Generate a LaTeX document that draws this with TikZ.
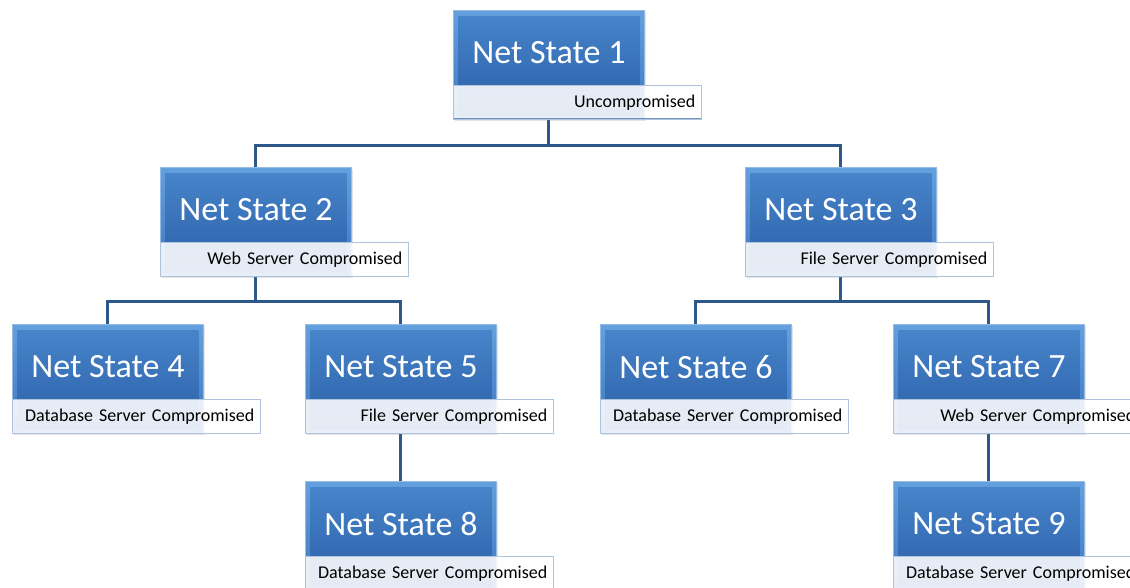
\documentclass[tikz,border=0pt]{standalone}
\usepackage{fontspec}
\setmainfont{Carlito}
\usetikzlibrary{backgrounds,shadows}

\definecolor{bevtop}{RGB}{100,160,222}
\definecolor{bevbot}{RGB}{62,118,192}
\definecolor{boxtop}{RGB}{72,134,204}
\definecolor{boxbot}{RGB}{42,94,166}
\definecolor{boxrim}{RGB}{150,188,230}
\definecolor{linkblue}{RGB}{46,88,140}
\definecolor{tagrim}{RGB}{175,195,220}
\definecolor{tagbase}{RGB}{80,122,180}

\tikzset{
  statebox/.style={rectangle, anchor=north west, inner sep=0pt,
    minimum width=191pt, minimum height=109pt,
    top color=bevtop, bottom color=bevbot, draw=boxrim, line width=0.8pt,
    drop shadow={opacity=0.22, shadow xshift=1.5pt, shadow yshift=-1.5pt},
    path picture={
      \shade[top color=boxtop, bottom color=boxbot]
        ([shift={(5pt,-6pt)}]path picture bounding box.north west) rectangle
        ([shift={(-5pt,4pt)}]path picture bounding box.south east);
    }},
  statetitle/.style={text=white, inner sep=0pt,
    font=\fontsize{34}{36}\selectfont},
  statetag/.style={rectangle, anchor=north west, inner sep=6pt,
    minimum height=34pt, text width=236pt, align=right,
    fill=white, fill opacity=0.88, text opacity=1,
    draw=tagrim, line width=0.6pt,
    font=\fontsize{18}{20}\selectfont,
    path picture={
      \draw[tagbase, line width=1.6pt, opacity=0.8]
        (path picture bounding box.south west) --
        (path picture bounding box.south east);
    }},
  link/.style={draw=linkblue, line width=3pt}
}

\begin{document}
\begin{tikzpicture}[x=1pt, y=-1pt]
  \useasboundingbox (0,0) rectangle (1130,588);

  % state boxes: bevelled blue body, white title, translucent caption strip
  \foreach \id/\px/\py/\tag in {
      1/453/10/Uncompromised,
      2/160/167/Web Server Compromised,
      3/745/167/File Server Compromised,
      4/12/324/Database Server Compromised,
      5/305/324/File Server Compromised,
      6/600/324/Database Server Compromised,
      7/893/324/Web Server Compromised,
      8/305/481/Database Server Compromised,
      9/893/481/Database Server Compromised}{
    \node[statebox] (n\id) at (\px,\py) {};
    \node[statetitle] (t\id) at ([yshift=-43pt]n\id.north) {Net State \id};
    \node[statetag] (g\id) at ([yshift=-75pt]n\id.north west) {\tag};
  }

  % tree connectors behind the boxes
  \begin{pgfonlayer}{background}
    \draw[link] (n1.south) -- ++(0,26) -| (n2.north);
    \draw[link] (n1.south) -- ++(0,26) -| (n3.north);
    \draw[link] (n2.south) -- ++(0,25) -| (n4.north);
    \draw[link] (n2.south) -- ++(0,25) -| (n5.north);
    \draw[link] (n3.south) -- ++(0,25) -| (n6.north);
    \draw[link] (n3.south) -- ++(0,25) -| (n7.north);
    \draw[link] (n5.south) -- (n8.north);
    \draw[link] (n7.south) -- (n9.north);
  \end{pgfonlayer}
\end{tikzpicture}
\end{document}
